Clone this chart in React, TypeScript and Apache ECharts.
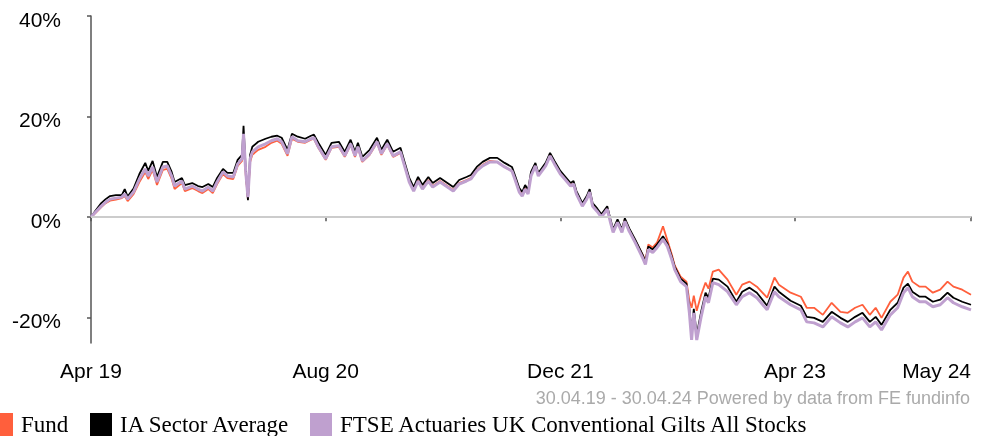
import React, { useEffect, useRef } from "react";
import * as echarts from "echarts";

// Months elapsed since 30.04.19
const months = [
  0, 0.3, 0.7, 1.0, 1.3, 1.7, 2.1, 2.3, 2.5, 2.9, 3.3, 3.7, 3.9, 4.2, 4.5, 4.9, 5.2, 5.5, 5.7, 6.2, 6.4, 6.9, 7.3, 7.6, 8.0, 8.3, 8.6, 9.0, 9.3, 9.7, 10.0, 10.3,
  10.4, 10.55, 10.7, 10.85, 11.0, 11.4, 11.9, 12.3, 12.7, 13.0, 13.4, 13.7, 14.1, 14.6, 15.0, 15.2, 15.5, 16.0, 16.4, 16.9, 17.3, 17.7, 18.0, 18.2, 18.5, 19.0, 19.5, 19.8, 20.2, 20.6, 21.1,
  21.4, 21.7, 22.0, 22.3, 22.6, 23.0, 23.3, 23.8, 24.2, 24.7, 25.1, 25.6, 25.9, 26.3, 26.7, 27.2, 27.7, 28.2, 28.7, 28.9, 29.2, 29.4, 29.6, 29.8, 30.0,
  30.3, 30.5, 31.0, 31.3, 31.6, 32.0, 32.3, 32.7, 32.9, 33.1, 33.5, 33.8, 34.0, 34.2, 34.5, 34.8, 35.2, 35.4, 35.6, 35.9, 36.2, 36.4, 36.7, 37.1, 37.6, 37.8, 38.0, 38.3, 38.6, 39.0, 39.3, 39.6, 39.8, 40.2, 40.6, 40.8, 40.95, 41.1, 41.3, 41.6, 41.9, 42.1, 42.4,
  42.8, 43.4, 44.0, 44.4, 44.9, 45.4, 46.1, 46.6, 46.9, 47.7, 48.4, 48.8, 49.3, 49.9, 50.5, 51.1, 51.6, 52.1, 52.6, 53.1, 53.5, 53.9, 54.5, 55.0, 55.4, 55.7, 56.0, 56.5, 56.9, 57.4, 57.9, 58.4, 58.8, 59.4, 60.0,
];

const fund = [
  0, 0.8, 2.0, 2.8, 3.3, 3.5, 3.8, 4.2, 3.2, 4.6, 7.0, 9.0, 7.6, 9.4, 6.4, 9.4, 9.6, 7.6, 5.6, 6.8, 5.2, 5.8, 5.2, 4.8, 5.6, 4.8, 6.6, 8.6, 7.8, 7.6, 10.2, 11.2,
  16.0, 8.4, 3.6, 11.0, 12.4, 13.4, 14.0, 14.8, 15.2, 14.6, 12.2, 15.6, 15.0, 14.8, 15.4, 15.6, 13.8, 11.4, 13.8, 14.0, 12.0, 14.4, 12.0, 13.8, 11.0, 12.4, 14.8, 12.4, 14.4, 12.0, 12.8,
  10.2, 7.2, 5.4, 7.4, 5.8, 7.4, 6.2, 7.2, 6.4, 5.4, 6.8, 7.4, 7.8, 9.4, 10.4, 11.2, 11.0, 10.0, 9.2, 7.8, 5.2, 4.4, 5.8, 4.8, 8.4,
  10.4, 8.4, 10.4, 12.6, 10.8, 8.8, 7.8, 6.4, 6.8, 4.8, 2.4, 3.8, 5.2, 2.4, 1.4, 0.2, 1.8, -0.6, -2.8, -0.8, -2.6, -0.4, -2.4, -4.6, -7.4, -8.6, -5.4, -6.0, -5.0, -1.8, -4.6, -7.4, -9.6, -11.8, -12.8, -16.6, -18.0, -15.6, -18.6, -15.4, -13.0, -14.2, -10.8,
  -10.4, -12.4, -15.4, -13.4, -12.8, -13.8, -16.0, -12.0, -13.4, -15.0, -15.8, -18.0, -18.0, -19.4, -17.0, -18.8, -19.0, -18.0, -17.4, -19.4, -18.0, -20.0, -16.8, -15.4, -12.0, -10.8, -12.8, -13.8, -13.8, -15.0, -14.4, -12.8, -13.8, -14.4, -15.4,
];

const iaSector = [
  0, 1.3, 2.8, 3.6, 4.2, 4.4, 4.4, 5.6, 4.1, 5.7, 8.6, 10.8, 9.2, 11.2, 8.0, 11.0, 11.0, 9.0, 7.0, 7.8, 6.4, 6.8, 6.2, 6.0, 6.6, 6.0, 7.8, 9.6, 8.8, 8.8, 11.4, 12.4,
  18.2, 9.5, 3.4, 12.4, 14.0, 15.0, 15.6, 16.0, 16.2, 15.8, 13.4, 16.6, 16.0, 15.6, 16.2, 16.4, 14.8, 12.4, 14.8, 15.0, 13.0, 15.4, 13.0, 14.8, 12.0, 13.4, 15.8, 13.4, 15.4, 13.0, 13.8,
  10.8, 7.8, 6.0, 8.0, 6.4, 8.0, 6.8, 7.8, 7.0, 6.0, 7.4, 8.0, 8.4, 10.0, 11.0, 11.8, 11.8, 10.8, 10.0, 8.4, 5.8, 5.0, 6.4, 5.4, 9.0,
  10.8, 8.8, 10.8, 12.8, 11.2, 9.2, 8.2, 6.8, 7.2, 5.2, 2.8, 4.2, 5.6, 2.8, 1.8, 0.6, 2.2, -0.2, -2.4, -0.4, -2.4, -0.2, -2.2, -4.4, -7.4, -8.8, -5.8, -6.4, -5.4, -3.8, -5.2, -7.8, -9.8, -12.2, -13.2, -18.2, -23.0, -18.2, -23.4, -18.8, -15.0, -16.0, -12.2,
  -12.4, -13.8, -16.8, -14.8, -14.0, -15.0, -17.6, -13.8, -14.8, -16.6, -17.6, -19.8, -20.0, -20.8, -18.8, -20.0, -20.8, -19.8, -19.0, -20.8, -19.8, -21.4, -18.4, -17.0, -14.0, -13.2, -14.8, -15.8, -15.8, -16.8, -16.4, -15.0, -16.0, -16.8, -17.4,
];

const ftseGilts = [
  0, 1.0, 2.2, 3.0, 3.6, 3.8, 4.0, 4.6, 3.6, 5.0, 7.6, 9.6, 8.2, 10.0, 7.0, 10.0, 10.2, 8.2, 6.2, 7.2, 5.6, 6.2, 5.6, 5.2, 6.0, 5.2, 7.0, 9.0, 8.2, 8.0, 10.6, 11.6,
  16.6, 9.0, 4.0, 11.6, 13.0, 14.0, 14.6, 15.2, 15.6, 15.0, 12.6, 16.0, 15.2, 15.0, 15.6, 15.8, 14.0, 11.6, 14.0, 14.2, 12.2, 14.6, 12.2, 14.0, 11.2, 12.6, 15.0, 12.6, 14.6, 12.2, 13.0,
  10.0, 7.0, 5.2, 7.2, 5.6, 7.2, 6.0, 7.0, 6.2, 5.2, 6.6, 7.2, 7.6, 9.2, 10.2, 11.0, 11.0, 10.0, 9.2, 7.6, 5.0, 4.2, 5.6, 4.6, 8.2,
  10.2, 8.2, 10.2, 12.2, 10.6, 8.6, 7.6, 6.2, 6.6, 4.6, 2.2, 3.6, 5.0, 2.2, 1.2, 0.0, 1.6, -0.8, -3.0, -1.0, -3.0, -0.8, -2.8, -5.0, -8.0, -9.4, -6.4, -7.0, -6.0, -4.4, -5.8, -8.4, -10.4, -12.8, -13.8, -19.0, -24.4, -19.0, -24.4, -19.8, -15.8, -17.0, -13.0,
  -13.4, -14.8, -17.4, -15.8, -15.0, -16.0, -18.4, -14.8, -15.8, -17.4, -18.4, -20.8, -21.0, -21.8, -19.8, -21.0, -21.8, -20.8, -20.0, -21.8, -20.8, -22.4, -19.4, -18.0, -15.0, -14.0, -15.8, -16.8, -16.8, -17.8, -17.4, -16.0, -17.0, -17.8, -18.4,
];

const xTickValues = [0, 16, 32, 48, 60];
const xTickLabels = ["Apr 19", "Aug 20", "Dec 21", "Apr 23", "May 24"];
const yTickValues = [-20, 0, 20, 40];

const seriesNames = ["Fund", "IA Sector Average", "FTSE Actuaries UK Conventional Gilts All Stocks"];
const seriesColors = ["#ff5f3c", "#000000", "#bfa0cf"];
const footerText = "30.04.19 - 30.04.24 Powered by data from FE fundinfo";

export default function App() {
  const ref = useRef<HTMLDivElement>(null);

  useEffect(() => {
    if (!ref.current) return;
    const chart = echarts.init(ref.current, undefined, { renderer: "svg" });
    const toPairs = (vals: number[]) => months.map((m, i) => [m, vals[i]]);
    const allValues = [fund, iaSector, ftseGilts];
    const widths = [1.8, 1.8, 3];
    const legendLefts = [-9, 90, 310];
    const axisLabelFont = { fontFamily: "Liberation Sans", fontSize: 21, color: "#000" };

    chart.setOption({
      animation: false,
      grid: { left: 91, right: 13, top: 16, bottom: 93, containLabel: false },
      xAxis: {
        type: "value",
        min: 0,
        max: 60,
        axisLine: { show: true, lineStyle: { color: "#555", width: 1.5 } },
        axisTick: { show: true, length: 4, lineStyle: { color: "#555", width: 1.5 }, customValues: xTickValues },
        axisLabel: {
          ...axisLabelFont,
          margin: 17,
          customValues: xTickValues,
          alignMaxLabel: "right",
          formatter: (v: number) => {
            const i = xTickValues.indexOf(v);
            return i >= 0 ? xTickLabels[i] : "";
          },
        },
        splitLine: { show: false },
      },
      yAxis: {
        type: "value",
        min: -25,
        max: 40,
        axisLine: { show: true, lineStyle: { color: "#555", width: 1.5 } },
        axisTick: { show: true, length: 4, lineStyle: { color: "#555", width: 1.5 }, customValues: yTickValues },
        axisLabel: {
          ...axisLabelFont,
          margin: 30,
          customValues: yTickValues,
          verticalAlign: "top",
          lineHeight: 6,
          formatter: (v: number) => `${v}%`,
        },
        splitLine: { show: false },
      },
      legend: seriesNames.map((name, i) => ({
        data: [name],
        left: legendLefts[i],
        top: 413,
        padding: 0,
        icon: "rect",
        itemWidth: 22,
        itemHeight: 23,
        selectedMode: false,
        textStyle: { fontFamily: "Liberation Serif", fontSize: 23, color: "#000", padding: [0, 0, 0, 3] },
      })),
      graphic: [
        {
          type: "text",
          x: 970,
          y: 398,
          style: {
            text: footerText,
            font: '18px "Liberation Sans"',
            fill: "#aaaaaa",
            textAlign: "right",
            textVerticalAlign: "middle",
          },
        },
      ],
      series: seriesNames.map((name, i) => ({
        name,
        type: "line",
        data: toPairs(allValues[i]),
        showSymbol: false,
        symbol: "none",
        color: seriesColors[i],
        lineStyle: { color: seriesColors[i], width: widths[i] },
        clip: true,
        markLine:
          i === 0
            ? {
                silent: true,
                symbol: "none",
                label: { show: false },
                lineStyle: { color: "#cccccc", width: 2, type: "solid" },
                data: [{ yAxis: 0 }],
              }
            : undefined,
      })),
    });

    return () => chart.dispose();
  }, []);

  return (
    <div
      ref={ref}
      style={{ position: "fixed", left: 0, top: 0, width: 984, height: 436 }}
    />
  );
}
